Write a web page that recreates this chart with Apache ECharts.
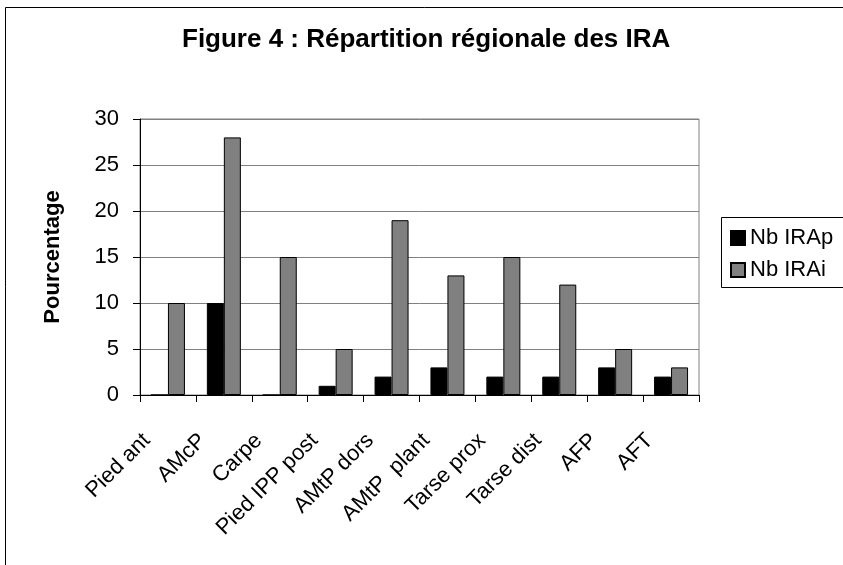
<!DOCTYPE html>
<html>
<head>
<meta charset="utf-8">
<script src="https://cdn.jsdelivr.net/npm/echarts@6/dist/echarts.min.js"></script>
<style>
  html, body { margin: 0; padding: 0; background: #fff; }
  #main { width: 843px; height: 565px; }
</style>
</head>
<body>
<div id="main"></div>
<script>
var categories = ['Pied ant', 'AMcP', 'Carpe', 'Pied IPP post', 'AMtP dors', 'AMtP  plant', 'Tarse prox', 'Tarse dist', 'AFP', 'AFT'];
var irap = [0, 10, 0, 1, 2, 3, 2, 2, 3, 2];
var irai = [10, 28, 15, 5, 19, 13, 15, 12, 5, 3];
var yTicks = [0, 5, 10, 15, 20, 25, 30];

var font = 'Arial, "Liberation Sans", sans-serif';
var myChart = echarts.init(document.getElementById('main'));

var option = {
  backgroundColor: '#fff',
  animation: false,
  title: {
    text: 'Figure 4 : Répartition régionale des IRA',
    left: 182,
    top: 27,
    padding: 0,
    textStyle: { fontFamily: font, fontSize: 26, fontWeight: 'bold', color: '#000' }
  },
  graphic: [
    { type: 'rect', shape: { x: 5.5, y: 7.5, width: 900, height: 600 },
      style: { fill: 'none', stroke: '#000', lineWidth: 1 }, z: 100 },
    { type: 'rect', shape: { x: 721.5, y: 217.5, width: 200, height: 70 },
      style: { fill: '#fff', stroke: '#000', lineWidth: 1 }, z: 5 }
  ],
  legend: {
    orient: 'vertical',
    left: 730,
    top: 227,
    padding: 0,
    icon: 'rect',
    itemWidth: 14,
    itemHeight: 14,
    itemGap: 10,
    textStyle: { fontFamily: font, fontSize: 22, color: '#000', padding: [0, 0, 0, 0] },
    data: ['Nb IRAp', 'Nb IRAi'],
    z: 10
  },
  grid: { left: 140, right: 144, top: 119, bottom: 170, show: true, borderColor: '#808080', borderWidth: 1 },
  xAxis: {
    type: 'category',
    data: categories,
    axisLine: { lineStyle: { color: '#000' } },
    axisTick: { show: true, length: 7, alignWithLabel: false, lineStyle: { color: '#000' } },
    axisLabel: { rotate: 45, fontFamily: font, fontSize: 22, color: '#000', margin: 21, interval: 0,
      padding: [0, 30, 0, 0] }
  },
  yAxis: {
    type: 'value',
    min: yTicks[0],
    max: yTicks[yTicks.length - 1],
    interval: 5,
    name: 'Pourcentage',
    nameLocation: 'middle',
    nameGap: 76,
    nameTextStyle: { fontFamily: font, fontSize: 22, fontWeight: 'bold', color: '#000' },
    axisLine: { show: true, lineStyle: { color: '#000' } },
    axisTick: { show: true, length: 7, lineStyle: { color: '#000' } },
    axisLabel: { fontFamily: font, fontSize: 22, color: '#000', margin: 21 },
    splitLine: { lineStyle: { color: '#808080', width: 1 } }
  },
  series: [
    { name: 'Nb IRAp', type: 'bar', data: irap, barWidth: 17, barGap: '0%',
      itemStyle: { color: '#000', borderColor: '#000', borderWidth: 1 } },
    { name: 'Nb IRAi', type: 'bar', data: irai, barWidth: 17,
      itemStyle: { color: '#808080', borderColor: '#000', borderWidth: 1 } }
  ]
};
myChart.setOption(option);
</script>
</body>
</html>
